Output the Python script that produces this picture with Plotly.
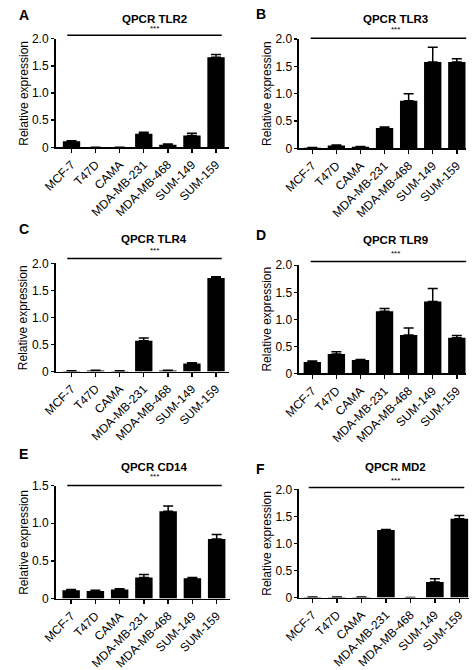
import plotly.graph_objects as go

# ---------------- data ----------------
categories = ["MCF-7", "T47D", "CAMA", "MDA-MB-231", "MDA-MB-468", "SUM-149", "SUM-159"]

tlr2 = [0.11, 0.004, 0.004, 0.25, 0.05, 0.22, 1.66]
tlr2_err = [0.01, 0.0, 0.0, 0.03, 0.01, 0.04, 0.05]

tlr3 = [0.01, 0.05, 0.03, 0.37, 0.87, 1.58, 1.58]
tlr3_err = [0.004, 0.01, 0.005, 0.02, 0.13, 0.27, 0.06]

tlr4 = [0.01, 0.02, 0.01, 0.57, 0.02, 0.15, 1.73]
tlr4_err = [0.003, 0.005, 0.003, 0.05, 0.005, 0.01, 0.02]

tlr9 = [0.21, 0.36, 0.25, 1.15, 0.71, 1.33, 0.66]
tlr9_err = [0.02, 0.04, 0.01, 0.05, 0.13, 0.24, 0.04]

cd14 = [0.11, 0.10, 0.12, 0.28, 1.16, 0.27, 0.79]
cd14_err = [0.01, 0.01, 0.01, 0.04, 0.07, 0.01, 0.06]

md2 = [0.01, 0.01, 0.01, 1.25, 0.003, 0.29, 1.46]
md2_err = [0.002, 0.002, 0.002, 0.01, 0.0, 0.06, 0.06]

titles = ["QPCR TLR2", "QPCR TLR3", "QPCR TLR4", "QPCR TLR9", "QPCR CD14", "QPCR MD2"]
letters = ["A", "B", "C", "D", "E", "F"]
series = [tlr2, tlr3, tlr4, tlr9, cd14, md2]
errors = [tlr2_err, tlr3_err, tlr4_err, tlr9_err, cd14_err, md2_err]
ymax = [2.0, 2.0, 2.0, 2.0, 1.5, 2.0]
y_tickvals = [[0, 0.5, 1.0, 1.5, 2.0]] * 4 + [[0, 0.5, 1.0, 1.5]] + [[0, 0.5, 1.0, 1.5, 2.0]]
y_ticktext = [["0", "0.5", "1.0", "1.5", "2.0"]] * 4 + [["0", "0.5", "1.0", "1.5"]] + [["0", "0.5", "1.0", "1.5", "2.0"]]
stars = "***"

# ---------------- layout geometry (pixels) ----------------
W, H = 472, 670
# (x_left, x_right, y_top, y_bottom) of each plot area
boxes = [
    (41, 220, 32.5, 144),
    (293, 466, 33, 145),
    (41, 220, 263, 374),
    (293, 466, 265, 376),
    (41, 221, 491, 607),
    (293, 469, 495, 606),
]
x_ranges = [
    [-0.66, 6.52],
    [-0.55, 6.39],
    [-0.66, 6.52],
    [-0.55, 6.39],
    [-0.64, 6.53],
    [-0.55, 6.40],
]
title_y = [12, 12, 238, 239, 472, 472]
title_x = [143, 393, 143, 393, 143, 393]
star_y = [22, 23, 250, 253, 482, 486]
sig_line = [  # (x0_px, x1_px, y_px)
    (53, 213, 29),
    (305, 466, 32),
    (53, 213, 258),
    (305, 466, 261),
    (53, 213, 491),
    (303, 464, 493),
]
letter_pos = [(1, 8), (246, 7), (1, 228), (246, 234), (1, 459), (246, 474)]
ytitle_x = [8, 260, 8, 260, 8, 259]

FONT = "Liberation Sans, Arial, Helvetica, sans-serif"

fig = go.Figure()
layout = dict(
    width=W, height=H,
    margin=dict(l=0, r=0, t=0, b=0),
    paper_bgcolor="white", plot_bgcolor="white",
    showlegend=False,
    font=dict(family=FONT, size=12, color="black"),
    hovermode=False,
)
annotations = []
shapes = []

def px2x(p):
    return p / W

def px2y(p):
    return 1 - p / H

for i in range(6):
    n = "" if i == 0 else str(i + 1)
    xa, ya = "x" + n, "y" + n
    fig.add_trace(go.Bar(
        x=categories, y=series[i], xaxis=xa, yaxis=ya,
        marker=dict(color="black", line=dict(width=0)),
        width=0.72,
        error_y=dict(type="data", symmetric=False, array=errors[i],
                     arrayminus=[0] * len(errors[i]), color="black",
                     thickness=1.5, width=5),
        cliponaxis=False,
    ))
    x0, x1, yt, yb = boxes[i]
    layout["xaxis" + n] = dict(
        domain=[px2x(x0), px2x(x1)], anchor=ya,
        type="category", range=x_ranges[i],
        showline=True, linecolor="black", linewidth=1.6,
        ticks="outside", ticklen=4, tickwidth=1.4, tickcolor="black",
        tickangle=-45, tickfont=dict(size=12, family=FONT),
        showgrid=False, zeroline=False, fixedrange=True,
    )
    layout["yaxis" + n] = dict(
        domain=[px2y(yb), px2y(yt)], anchor=xa,
        range=[0, ymax[i]],
        tickvals=y_tickvals[i], ticktext=y_ticktext[i],
        showline=True, linecolor="black", linewidth=1.6,
        ticks="outside", ticklen=3, tickwidth=1.4, tickcolor="black",
        tickfont=dict(size=12, family=FONT),
        showgrid=False, zeroline=False, fixedrange=True,
    )
    cx = title_x[i]
    annotations.append(dict(text="<b>%s</b>" % titles[i], x=px2x(cx), y=px2y(title_y[i]),
                            xref="paper", yref="paper", showarrow=False,
                            xanchor="center", yanchor="middle",
                            font=dict(size=11.5, family=FONT)))
    annotations.append(dict(text=stars, x=px2x(cx), y=px2y(star_y[i]),
                            xref="paper", yref="paper", showarrow=False,
                            xanchor="center", yanchor="middle",
                            font=dict(size=8, family=FONT)))
    lx, ly = letter_pos[i]
    annotations.append(dict(text="<b>%s</b>" % letters[i], x=px2x(lx), y=px2y(ly),
                            xref="paper", yref="paper", showarrow=False,
                            xanchor="left", yanchor="middle",
                            font=dict(size=14, family=FONT)))
    annotations.append(dict(text="Relative expression", x=px2x(ytitle_x[i]),
                            y=px2y((yt + yb) / 2), xref="paper", yref="paper",
                            showarrow=False, textangle=-90,
                            xanchor="center", yanchor="middle",
                            font=dict(size=12, family=FONT)))
    sx0, sx1, sy = sig_line[i]
    shapes.append(dict(type="line", xref="x%s domain" % n, yref="y%s domain" % n,
                       x0=(sx0 - x0) / (x1 - x0), x1=(sx1 - x0) / (x1 - x0),
                       y0=(yb - sy) / (yb - yt), y1=(yb - sy) / (yb - yt),
                       line=dict(color="black", width=1.5)))

layout["annotations"] = annotations
layout["shapes"] = shapes
fig.update_layout(**layout)
fig.write_html(
    "out.html",
    config={"displayModeBar": False, "staticPlot": True},
    post_script="document.body.style.margin='0';document.body.style.overflow='hidden';",
)
